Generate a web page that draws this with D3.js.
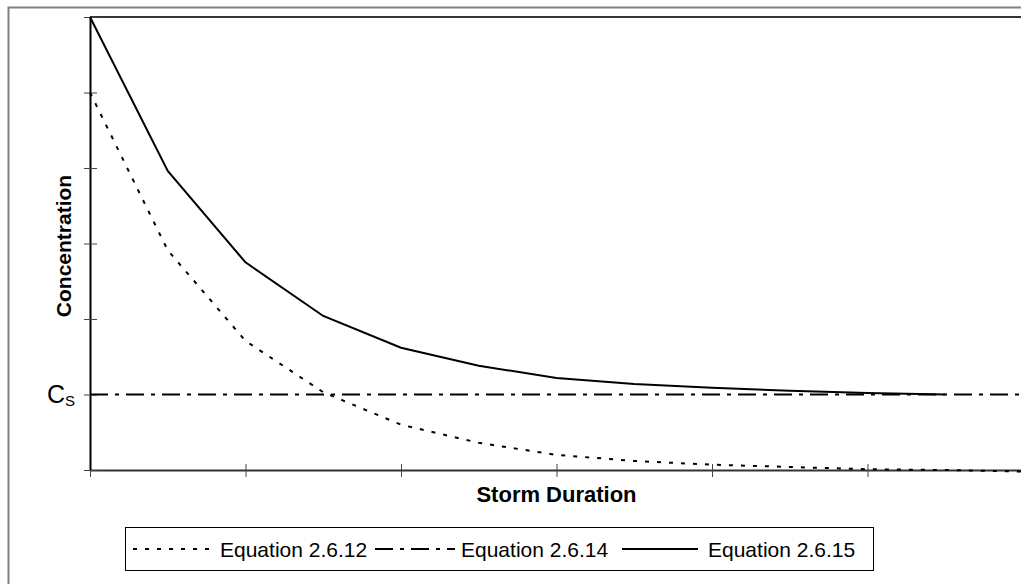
<!DOCTYPE html>
<html>
<head>
<meta charset="utf-8">
<script src="https://cdn.jsdelivr.net/npm/d3@7"></script>
<style>
  body { margin: 0; background: #fff; }
  svg { display: block; font-family: "Liberation Sans", Arial, sans-serif; }
</style>
</head>
<body>
<svg id="drawing_region"></svg>
<script>
// storm duration steps (unitless) and the three curves
const durations = [0, 0.5, 1, 1.5, 2, 2.5, 3, 3.5, 4, 4.5, 5, 5.5, 6];
const eq12 = [5.0, 2.91, 1.71, 1.03, 0.60, 0.36, 0.20, 0.12, 0.07, 0.04, 0.01, 0.0, -0.02];
const eq14 = [1, 1, 1, 1, 1, 1, 1, 1, 1, 1, 1, 1, 1];
const eq15 = [6.0, 3.96, 2.75, 2.04, 1.62, 1.38, 1.22, 1.14, 1.09, 1.05, 1.02, 1.0];
const xTicks = [0, 1, 2, 3, 4, 5, 6];
const yTicks = [0, 1, 2, 3, 4, 5, 6];
const seriesNames = ["Equation 2.6.12", "Equation 2.6.14", "Equation 2.6.15"];

class LineChart {

    constructor( config ) {
        this.config = config;
        this.series = [
            { name: seriesNames[0], values: eq12, dash: "4,8" },
            { name: seriesNames[1], values: eq14, dash: "18,7,4,7" },
            { name: seriesNames[2], values: eq15, dash: null }
        ];
        this.init();
    }

    init() {
        let self = this;
        const m = self.config.margin;

        self.svg = d3.select( self.config.parent )
            .attr('width', self.config.width)
            .attr('height', self.config.height);

        // outer chart frame (runs off the right/bottom edge)
        self.svg.append('rect')
            .attr('x', 8.5).attr('y', 7.5)
            .attr('width', 1040).attr('height', 600)
            .attr('fill', 'none')
            .attr('stroke', '#808080')
            .attr('stroke-width', 2);

        self.inner_width = 933;
        self.inner_height = 453;

        self.chart = self.svg.append('g')
            .attr('transform', `translate(${m.left}, ${m.top})`);

        self.xscale = d3.scaleLinear()
            .domain([0, 6])
            .range([0, self.inner_width]);

        self.yscale = d3.scaleLinear()
            .domain([0, 6])
            .range([self.inner_height, 0]);

        // plot area top border
        self.chart.append('line')
            .attr('x1', 0).attr('x2', self.inner_width)
            .attr('y1', 0).attr('y2', 0)
            .attr('stroke', '#333')
            .attr('stroke-width', 2);
    }

    render() {
        let self = this;

        const xaxis = d3.axisBottom( self.xscale )
            .tickValues(xTicks)
            .tickSizeInner(7)
            .tickSizeOuter(0)
            .tickFormat('');

        const xg = self.chart.append('g')
            .attr('transform', `translate(0, ${self.inner_height})`)
            .call( xaxis );
        xg.select('.domain').attr('stroke', '#333').attr('stroke-width', 2);
        xg.selectAll('.tick line').attr('y1', -6).attr('stroke', '#444');

        const yaxis = d3.axisLeft( self.yscale )
            .tickValues(yTicks)
            .tickSizeInner(6)
            .tickSizeOuter(0)
            .tickFormat('');

        const yg = self.chart.append('g')
            .call( yaxis );
        yg.select('.domain').attr('stroke', '#000').attr('stroke-width', 2);
        yg.selectAll('.tick line').attr('x1', 7).attr('x2', -6).attr('stroke', '#444');

        // C_S label at the Cs tick
        const cs = self.chart.append('text')
            .attr('x', -43)
            .attr('y', self.yscale(1) + 8)
            .attr('font-size', '25px')
            .attr('fill', '#000');
        cs.append('tspan').text('C');
        cs.append('tspan')
            .attr('font-size', '15px')
            .attr('dy', 3)
            .text('S');

        const line = d3.line()
            .x((d, i) => self.xscale(durations[i]))
            .y(d => self.yscale(d));

        self.chart.selectAll('.series')
            .data(self.series)
            .join('path')
            .attr('class', 'series')
            .attr('d', d => line(d.values))
            .attr('fill', 'none')
            .attr('stroke', '#000')
            .attr('stroke-width', 2)
            .attr('stroke-dasharray', d => d.dash);

        // axis titles
        self.svg.append('text')
            .attr('x', self.config.margin.left + self.inner_width / 2)
            .attr('y', 502)
            .attr('text-anchor', 'middle')
            .attr('font-size', '22px')
            .attr('font-weight', 'bold')
            .text('Storm Duration');

        self.svg.append('text')
            .attr('transform', 'translate(71, 246) rotate(-90)')
            .attr('text-anchor', 'middle')
            .attr('font-size', '21px')
            .attr('font-weight', 'bold')
            .text('Concentration');

        // legend
        const legend = self.svg.append('g');
        legend.append('rect')
            .attr('x', 125.5).attr('y', 527.5)
            .attr('width', 748).attr('height', 43)
            .attr('fill', '#fff')
            .attr('stroke', '#000');

        const items = [
            { sx: 133, ex: 210, tx: 220 },
            { sx: 375, ex: 455, tx: 461 },
            { sx: 622, ex: 698, tx: 708 }
        ];
        items.forEach((it, i) => {
            legend.append('line')
                .attr('x1', it.sx).attr('x2', it.ex)
                .attr('y1', 549).attr('y2', 549)
                .attr('stroke', '#000')
                .attr('stroke-width', 2)
                .attr('stroke-dasharray', self.series[i].dash);
            legend.append('text')
                .attr('x', it.tx)
                .attr('y', 557)
                .attr('font-size', '21px')
                .text(self.series[i].name);
        });
    }
}

const config = {
    parent: '#drawing_region',
    width: 1021,
    height: 584,
    margin: {top: 17, right: 0, bottom: 114, left: 90}
};

const chart = new LineChart( config );
chart.render();
</script>
</body>
</html>
